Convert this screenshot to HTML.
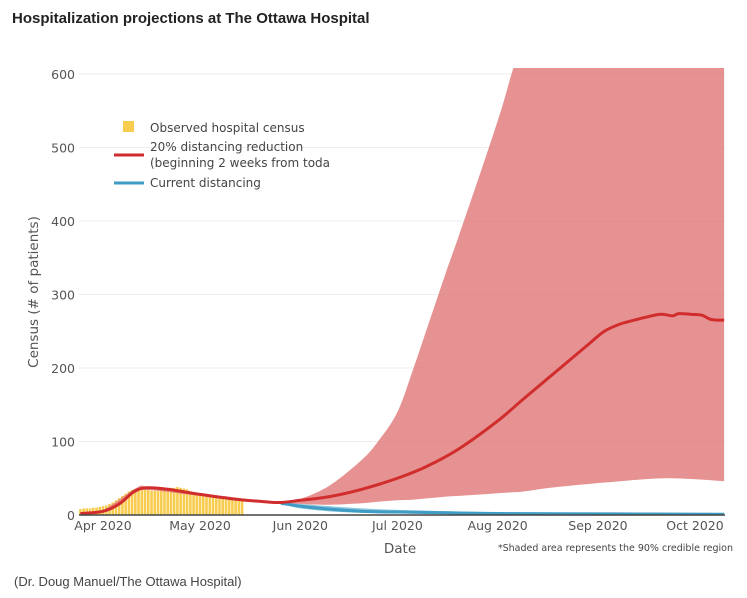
<!DOCTYPE html>
<html><head><meta charset="utf-8"><style>
body{margin:0;background:#fff;width:747px;height:598px;overflow:hidden;font-family:"Liberation Sans",sans-serif}
.title{position:absolute;left:12px;top:10px;font-weight:bold;font-size:15px;color:#222}
.credit{position:absolute;left:14px;top:574px;font-size:13px;color:#444}
svg{position:absolute;left:0;top:0}
text{font-family:"DejaVu Sans",sans-serif}
</style></head><body>
<div class="title">Hospitalization projections at The Ottawa Hospital</div>
<div class="credit">(Dr. Doug Manuel/The Ottawa Hospital)</div>
<svg id="chart" width="747" height="598"></svg>
<script>
// days relative to Apr 1 2020
const yTicks=[0,100,200,300,400,500,600];
const xTickDays=[0,30,61,91,122,153,183];
const xTickLabels=["Apr 2020","May 2020","Jun 2020","Jul 2020","Aug 2020","Sep 2020","Oct 2020"];
const obsStart=-7;
const observed=[8,9,9,9,10,10,11,12,13,15,17,20,23,26,29,32,34,35,35,35,34,34,33,33,33,34,35,36,37,37,38,37,36,35,32,30,28,27,26,25,24,24,23,22,22,21,21,20,20,20,20];
const redDays=[-7,0,5,10,14,20,30,40,50,55,61,70,80,91,100,110,122,130,140,150,155,160,165,172,176,178,182,185,188,192];
const redMed=[2,5,15,33,37,35,28,22,18,17,20,25,35,50,66,90,128,158,195,232,250,260,266,273,271,274,273,272,266,265];
const bandDays=[-7,0,10,14,30,50,55,61,70,80,85,91,96,101,106,110,117,123,127,130,192];
const bandHi=[3,7,36,39,30,19,18,22,40,75,100,140,200,265,330,380,470,550,610,640,640];
const bandLo=[1,4,30,34,26,17,16,15,14,16,18,20,21,23,25,26,28,30,31,32,46];
const bandLoTail=[[140,38],[160,46],[175,50],[192,46]];
const blueDays=[55,61,70,80,91,122,160,192];
const blueMed=[16,12,8,5,4,2,1.5,1];
const blueHi=[17,15,12,9,7,4,3,2];
const blueLo=[15,9,5,3,2,1,0.5,0.5];
const X0=103,PXD=3.235,Y0=515,PXV=0.735,L=79,R=725,T=68;
const xs=d=>X0+d*PXD, ys=v=>Y0-v*PXV;
const svg=document.getElementById('chart');const NS='http://www.w3.org/2000/svg';
function mk(t,a,p){const e=document.createElementNS(NS,t);for(const k in a)e.setAttribute(k,a[k]);(p||svg).appendChild(e);return e;}
function smooth(arr,start){const p=arr.map(a=>[xs(a[0]),ys(a[1])]);let s=(start?start:'M')+p[0][0]+','+p[0][1];
for(let i=0;i<p.length-1;i++){const p0=p[i-1]||p[i],p1=p[i],p2=p[i+1],p3=p[i+2]||p2;
s+=' C'+(p1[0]+(p2[0]-p0[0])/6)+','+(p1[1]+(p2[1]-p0[1])/6)+' '+(p2[0]-(p3[0]-p1[0])/6)+','+(p2[1]-(p3[1]-p1[1])/6)+' '+p2[0]+','+p2[1];}return s;}
const defs=mk('defs',{});const cp=mk('clipPath',{id:'pc'},defs);mk('rect',{x:L,y:T,width:R-L,height:Y0-T},cp);
yTicks.forEach(v=>{const g=mk('line',{x1:L,x2:R,y1:ys(v),y2:ys(v),stroke:'#eee'});

const t=mk('text',{x:L-4,y:ys(v)+5,'text-anchor':'end','font-size':12.5,fill:'#555'});t.textContent=v;
});
const plot=mk('g',{'clip-path':'url(#pc)'});
observed.forEach((v,i)=>{const d=obsStart+i;const b=mk('rect',{x:xs(d)-1.3,y:ys(v),width:2.6,height:v*PXV,fill:'#f7cc4f'},plot);
});
const lo=bandDays.map((d,i)=>[d,bandLo[i]]).filter(p=>p[0]<=130).concat(bandLoTail);
const hi=bandDays.map((d,i)=>[d,bandHi[i]]);
const band=mk('path',{d:smooth(hi)+' '+smooth(lo.slice().reverse(),'L')+' Z',fill:'#e17a7a','fill-opacity':0.82},plot);

const bb=mk('path',{d:smooth(blueDays.map((d,i)=>[d,blueHi[i]]))+' '+smooth(blueDays.map((d,i)=>[d,blueLo[i]]).reverse(),'L')+' Z',fill:'#5aaed0','fill-opacity':0.7},plot);

const bl=mk('path',{d:smooth(blueDays.map((d,i)=>[d,blueMed[i]])),fill:'none',stroke:'#3f9cc4','stroke-width':3},plot);

const rl=mk('path',{d:smooth(redDays.map((d,i)=>[d,redMed[i]])),fill:'none',stroke:'#d12d2d','stroke-width':3,'stroke-linejoin':'round'},plot);

mk('line',{x1:L,x2:R,y1:Y0,y2:Y0,stroke:'#444','stroke-width':1.5});
xTickDays.forEach((d,i)=>{const t=mk('text',{x:xs(d),y:530,'text-anchor':'middle','font-size':12.5,fill:'#555'});t.textContent=xTickLabels[i];
});
let t=mk('text',{x:400,y:553,'text-anchor':'middle','font-size':13.5,fill:'#555'});t.textContent='Date';

t=mk('text',{x:38,y:292,'text-anchor':'middle','font-size':13.5,fill:'#555',transform:'rotate(-90 38 292)'});t.textContent='Census (# of patients)';

t=mk('text',{x:733,y:551,'text-anchor':'end','font-size':9.5,fill:'#444'});t.textContent='*Shaded area represents the 90% credible region';

const lg=mk('g',{});
mk('rect',{x:123,y:121,width:11,height:11,fill:'#f7cc4f'},lg);
mk('line',{x1:114,x2:144,y1:155,y2:155,stroke:'#d12d2d','stroke-width':3},lg);
mk('line',{x1:114,x2:144,y1:183,y2:183,stroke:'#3f9cc4','stroke-width':3},lg);
[['Observed hospital census',132],['20% distancing reduction',151],['(beginning 2 weeks from toda',167],['Current distancing',187]].forEach(a=>{
const e=mk('text',{x:150,y:a[1],'font-size':12,fill:'#444'},lg);e.textContent=a[0];
});
</script>
</body></html>
